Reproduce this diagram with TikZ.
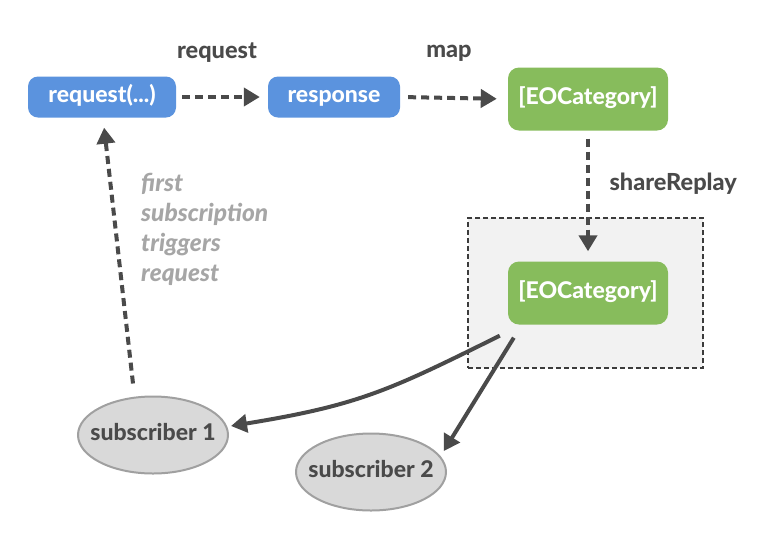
\documentclass[tikz,border=0pt]{standalone}
\usepackage{fontspec}
\setmainfont{Lato}[BoldFont={Lato Heavy},BoldItalicFont={Lato Heavy Italic}]
\usetikzlibrary{arrows.meta,positioning,shapes.geometric}
\definecolor{reqblue}{RGB}{91,147,222}
\definecolor{catgreen}{RGB}{135,188,92}
\definecolor{arrowgray}{RGB}{74,74,74}
\definecolor{subfill}{RGB}{217,217,217}
\definecolor{subline}{RGB}{160,160,160}
\definecolor{cachefill}{RGB}{242,242,242}
\definecolor{notegray}{RGB}{166,166,166}
\tikzset{
  bluebox/.style={fill=reqblue,rounded corners=10pt,minimum height=41pt,inner sep=0pt,text height=16pt,text depth=4.4pt,text=white,font=\bfseries\fontsize{23}{27}\selectfont},
  greenbox/.style={fill=catgreen,rounded corners=11pt,minimum width=160pt,minimum height=63pt,inner sep=0pt,text height=16pt,text depth=4.4pt,text=white,font=\bfseries\fontsize{23}{27}\selectfont},
  subnode/.style={draw=subline,line width=2pt,fill=subfill,ellipse,minimum width=150pt,minimum height=77pt,inner xsep=-12pt,inner ysep=0pt,text height=16pt,text depth=4.4pt,text=arrowgray,font=\bfseries\fontsize{23}{27}\selectfont},
  cachebox/.style={draw=arrowgray!80!black,line width=1.3pt,dash pattern=on 5pt off 3pt,fill=cachefill,minimum width=235pt,minimum height=150pt},
  flowlabel/.style={text=arrowgray,font=\bfseries\fontsize{23.5}{27}\selectfont},
  dashedflow/.style={->,draw=arrowgray,line width=4pt,dash pattern=on 8pt off 5pt},
  solidflow/.style={->,draw=arrowgray,line width=4pt}
}

\begin{document}
\begin{tikzpicture}[x=1pt,y=-1pt,>={Triangle[length=16pt,width=18pt]}]
  \useasboundingbox (0,0) rectangle (776,550);
  \node[bluebox,minimum width=148pt] (req) at (102,97) {request(...)};
  \node[bluebox,minimum width=132pt] (resp) at (334,97) {response};
  \node[greenbox] (cat) at (588,99) {[EOCategory]};
  \node[cachebox] (cache) at (585.5,293) {};
  \node[greenbox] (cat2) at (588,293) {[EOCategory]};
  \node[subnode] (sub1) at (153,435) {subscriber 1};
  \node[subnode] (sub2) at (371,472) {subscriber 2};

  \node[flowlabel] (lreq) at (217,53) {request};
  \node[flowlabel] (lmap) at (449,53) {map};
  \node[flowlabel,anchor=west] (lshare) at (606,184) {shareReplay};
  \node[anchor=north west,align=left,inner sep=0pt,text=notegray,
        font=\bfseries\itshape\fontsize{24.5}{30}\selectfont] (note) at (141,173)
        {first\\subscription\\triggers\\request};

  \draw[dashedflow,shorten <=6pt,shorten >=8pt] (req.east) -- (resp.west);
  \draw[dashedflow,shorten <=8pt,shorten >=11pt] (resp.east) -- (cat.west);
  \draw[dashedflow,shorten <=8pt,shorten >=10pt] (cat.south) -- (cat2.north);
  \draw[dashedflow,shorten >=10pt] ([xshift=-20pt,yshift=12pt]sub1.north) -- ([xshift=1pt]req.south);
  \draw[solidflow] ([xshift=-8pt,yshift=-11pt]cat2.south west) .. controls (390,390) and (360,405) .. ([xshift=2pt,yshift=9pt]sub1.east);
  \draw[solidflow] ([xshift=6pt,yshift=-13pt]cat2.south west) -- ([xshift=19pt,yshift=-7pt]sub2.north east);
\end{tikzpicture}
\end{document}
